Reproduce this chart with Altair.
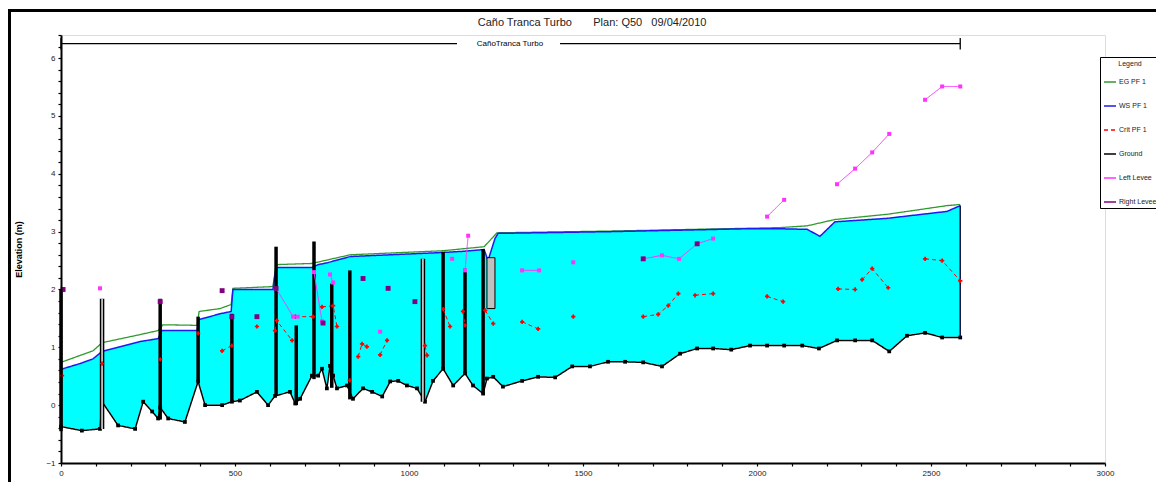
import altair as alt
import pandas as pd

# ---------------- data ----------------
ground_x = [0, 60, 112, 118, 164, 213, 236, 262, 279, 285, 308, 356, 394, 414, 463, 491, 514, 563, 595, 615,
            658, 673, 687, 721, 739, 750, 764, 773, 782, 793, 822, 839, 868, 894, 923, 946, 969, 994, 1023, 1046,
            1069, 1098, 1127, 1161, 1184, 1213, 1224, 1242, 1270, 1325, 1371, 1420, 1469, 1520, 1572, 1621, 1673,
            1727, 1779, 1828, 1874, 1926, 1980, 2029, 2078, 2130, 2178, 2230, 2282, 2331, 2380, 2431, 2483, 2532, 2584]
ground_y = [-0.37, -0.44, -0.41, 0.06, -0.35, -0.41, 0.06, -0.11, -0.23, -0.04, -0.23, -0.29, 0.41, 0.0, 0.0, 0.06,
            0.08, 0.23, 0.0, 0.16, 0.23, 0.03, 0.11, 0.51, 0.51, 0.63, 0.29, 0.68, 0.51, 0.29, 0.34, 0.11, 0.29, 0.23,
            0.15, 0.41, 0.42, 0.34, 0.29, 0.06, 0.42, 0.63, 0.34, 0.55, 0.34, 0.2, 0.46, 0.49, 0.32, 0.42, 0.49, 0.48,
            0.67, 0.67, 0.75, 0.75, 0.74, 0.67, 0.89, 0.98, 0.98, 0.96, 1.03, 1.03, 1.03, 1.03, 0.98, 1.12, 1.12, 1.12,
            0.93, 1.2, 1.25, 1.17, 1.17]

ws_x = [0, 55, 92, 118, 170, 227, 279, 290, 391, 397, 457, 489, 494, 609, 618, 721, 739, 764, 831, 1098, 1155,
        1216, 1227, 1247, 1256, 1578, 1971, 2066, 2144, 2181, 2224, 2374, 2546, 2584]
ws_y = [0.62, 0.72, 0.8, 0.93, 1.01, 1.1, 1.15, 1.29, 1.29, 1.48, 1.58, 1.62, 2.0, 2.0, 2.38, 2.38, 2.43, 2.46,
        2.57, 2.64, 2.66, 2.69, 2.5, 2.88, 2.97, 3.0, 3.05, 3.05, 3.04, 2.92, 3.17, 3.23, 3.35, 3.45]

eg_x = [0, 55, 92, 118, 227, 279, 293, 391, 397, 457, 489, 494, 609, 618, 721, 831, 1098, 1216, 1253, 1578,
        2066, 2144, 2224, 2374, 2546, 2584]
eg_y = [0.74, 0.86, 0.94, 1.08, 1.22, 1.29, 1.39, 1.38, 1.62, 1.67, 1.74, 2.02, 2.05, 2.43, 2.45, 2.6, 2.67,
        2.74, 2.98, 3.01, 3.07, 3.1, 3.21, 3.3, 3.45, 3.47]

crit_x = [3, 118, 285, 394, 463, 491, 563, 615, 620, 664, 673, 724, 750, 782, 793, 830, 854, 865, 879, 917,
          937, 1046, 1052, 1098, 1118, 1155, 1161, 1219, 1242, 1325, 1371, 1472, 1673, 1716, 1745, 1774, 1822,
          1874, 2029, 2075, 2233, 2282, 2302, 2331, 2377, 2483, 2532, 2584]
crit_y = [0.51, 0.72, 0.79, 1.24, 0.94, 1.03, 1.36, 1.29, 1.46, 1.12, 1.53, 1.53, 1.7, 1.72, 1.36, 0.43, 0.84,
          1.06, 1.01, 0.87, 1.12, 1.03, 0.86, 1.66, 1.36, 1.62, 1.38, 1.64, 1.41, 1.44, 1.32, 1.53, 1.53, 1.57,
          1.72, 1.93, 1.9, 1.93, 1.88, 1.79, 2.01, 2.0, 2.17, 2.36, 2.03, 2.53, 2.5, 2.15]
crit_seg = [1, 2, 3, 4, 5, 5, 6, 7, 7, 7, 8, 8, 9, 9, 9, 10, 11, 11, 11, 12, 12, 13, 13, 14, 14, 15, 15, 16,
            16, 17, 17, 18, 19, 19, 19, 19, 20, 20, 21, 21, 22, 22, 23, 23, 23, 24, 24, 24]

left_levee_x = [112, 285, 618, 667, 680, 727, 750, 773, 782, 917, 1124, 1161, 1170, 1325, 1374, 1472, 1673, 1727,
                1776, 1828, 1874, 2029, 2078, 2230, 2282, 2331, 2380, 2483, 2532, 2584]
left_levee_y = [2.02, 1.79, 2.02, 1.53, 1.53, 2.3, 1.45, 2.26, 2.12, 1.27, 2.53, 2.33, 2.93, 2.33, 2.33, 2.47,
                2.53, 2.59, 2.53, 2.79, 2.88, 3.26, 3.55, 3.82, 4.09, 4.37, 4.69, 5.28, 5.51, 5.51]
left_levee_seg = [1, 2, 3, 3, 3, 4, 4, 5, 5, 6, 7, 8, 8, 9, 9, 10, 11, 11, 11, 11, 11, 12, 12, 13, 13, 13, 13,
                  14, 14, 14]

right_levee_x = [6, 285, 463, 491, 563, 618, 753, 868, 940, 1017, 1673, 1828]
right_levee_y = [2.0, 1.79, 1.98, 1.53, 1.53, 2.02, 1.42, 2.19, 2.02, 1.79, 2.53, 2.79]

# structures (station, bottom, top)
struct_x = [0, 285, 394, 491, 618, 676, 727, 778, 830, 1098, 1161, 1213]
struct_lo = [-0.45, -0.25, 0.41, 0.05, 0.16, 0.0, 0.45, 0.3, 0.1, 0.63, 0.55, 0.2]
struct_hi = [2.0, 1.84, 1.53, 1.58, 2.74, 1.38, 2.83, 2.1, 2.33, 2.65, 2.36, 2.7]

open_struct_x = [118, 1040]
open_struct_lo = [-0.41, 0.06]
open_struct_hi = [1.84, 2.53]

gate_x0 = [1224]
gate_x1 = [1247]
gate_lo = [1.67]
gate_hi = [2.55]

end_x = [2584]
end_lo = [1.17]
end_hi = [3.45]

reach_label = "CañoTranca Turbo"
reach_seg_x0 = [0, 1434]
reach_seg_x1 = [1138, 2584]
reach_ends = [0, 2584]
reach_y = 6.25
reach_label_x = 1290

title_text = "Caño Tranca Turbo" + "\u00a0" * 7 + "Plan: Q50" + "\u00a0" * 3 + "09/04/2010"
title_x = 1526
title_y = 6.61

series_names = ["EG PF 1", "WS PF 1", "Crit PF 1", "Ground", "Left Levee", "Right Levee"]
series_colors = ["#2f9a2f", "#1c1cf0", "#ff0000", "#000000", "#ff33ff", "#800080"]
series_dash = [[1, 0], [1, 0], [4, 3], [1, 0], [1, 0], [1, 0]]

x_ticks = list(range(0, 3001, 100))
y_ticks = [round(-1 + 0.2 * i, 1) for i in range(38)]

# ---------------- frames ----------------
ground_df = pd.DataFrame({"x": ground_x, "y": ground_y, "series": "Ground"})
ws_df = pd.DataFrame({"x": ws_x, "y": ws_y, "series": "WS PF 1"})
eg_df = pd.DataFrame({"x": eg_x, "y": eg_y, "series": "EG PF 1"})
crit_df = pd.DataFrame({"x": crit_x, "y": crit_y, "seg": crit_seg, "series": "Crit PF 1"})
ll_df = pd.DataFrame({"x": left_levee_x, "y": left_levee_y, "seg": left_levee_seg, "series": "Left Levee"})
rl_df = pd.DataFrame({"x": right_levee_x, "y": right_levee_y, "series": "Right Levee"})
st_df = pd.DataFrame({"x": struct_x, "y": struct_lo, "hi": struct_hi})
op_df = pd.DataFrame({"x": open_struct_x, "y": open_struct_lo, "hi": open_struct_hi})
gate_df = pd.DataFrame({"x": gate_x0, "x1": gate_x1, "y": gate_lo, "hi": gate_hi})
end_df = pd.DataFrame({"x": end_x, "y": end_lo, "hi": end_hi})
reach_df = pd.DataFrame({"x": reach_seg_x0, "x1": reach_seg_x1, "y": [reach_y] * 2})
reach_end_df = pd.DataFrame({"x": reach_ends, "y": [reach_y - 0.1] * 2, "hi": [reach_y + 0.1] * 2})
reach_lab_df = pd.DataFrame({"x": [reach_label_x], "y": [reach_y], "t": [reach_label]})
title_df = pd.DataFrame({"x": [title_x], "y": [title_y], "t": [title_text]})

FONT = "Liberation Sans"

x_axis = alt.Axis(values=x_ticks, labelExpr="datum.value % 500 === 0 ? datum.label : ''", format="d",
                  grid=False, domainColor="black", domainWidth=2, tickColor="black", tickWidth=1.2,
                  tickSize=3, labelFontSize=8, labelPadding=3, labelColor="#222", title=None, zindex=1,
                  labelFlush=False, labelOverlap=False, labelFont=FONT)
y_axis = alt.Axis(values=y_ticks,
                  labelExpr="abs(datum.value - round(datum.value)) < 0.001 ? format(round(datum.value), 'd') : ''",
                  grid=False, domainColor="black", domainWidth=2, tickColor="black", tickWidth=1.2,
                  tickSize=3, labelFontSize=8, labelPadding=3, labelColor="#222", title="Elevation (m)",
                  titleFontSize=9, titleFontWeight="bold", titleFont=FONT, titlePadding=22, zindex=1,
                  labelOverlap=False, labelFont=FONT)

xs = alt.Scale(domain=[0, 3000], nice=False, zero=False)
ys = alt.Scale(domain=[-1, 6.4], nice=False, zero=False)


def X(f="x"):
    return alt.X(f"{f}:Q", scale=xs, axis=x_axis)


def Y(f="y"):
    return alt.Y(f"{f}:Q", scale=ys, axis=y_axis)


legend = alt.Legend(title="Legend", orient="none", legendX=1039, legendY=22, direction="vertical",
                    strokeColor="black", fillColor="white", padding=3, titleFontSize=7, titleFontWeight="normal",
                    titleFont=FONT, labelFont=FONT, labelFontSize=7, labelColor="#222", titleColor="#222",
                    symbolType="stroke", symbolSize=144,
                    symbolStrokeWidth=1.5, labelOffset=2, rowPadding=14, titlePadding=8,
                    titleAnchor="middle")
color_enc = alt.Color("series:N", scale=alt.Scale(domain=series_names, range=series_colors), legend=legend)
dash_enc = alt.StrokeDash("series:N", scale=alt.Scale(domain=series_names, range=series_dash), legend=legend)

cyan = alt.Chart(ws_df).mark_area(color="#00ffff", opacity=1).encode(x=X(), y=Y(), y2=alt.datum(-1))
white = alt.Chart(ground_df).mark_area(fill="white", stroke="white", strokeWidth=1.5, opacity=1).encode(
    x=X(), y=Y(), y2=alt.datum(-1))

eg_line = alt.Chart(eg_df).mark_line(strokeWidth=1.3).encode(x=X(), y=Y(), color=color_enc, strokeDash=dash_enc)
ws_line = alt.Chart(ws_df).mark_line(strokeWidth=1.5).encode(x=X(), y=Y(), color=color_enc, strokeDash=dash_enc)
ground_line = alt.Chart(ground_df).mark_line(strokeWidth=1.5).encode(x=X(), y=Y(), color=color_enc,
                                                                        strokeDash=dash_enc)
ground_pts = alt.Chart(ground_df).mark_square(size=14, color="black", opacity=1).encode(x=X(), y=Y())

struct = alt.Chart(st_df).mark_rule(strokeWidth=3.5, color="black").encode(x=X(), y=Y(), y2="hi:Q")
open_outer = alt.Chart(op_df).mark_rule(strokeWidth=4.5, color="black").encode(x=X(), y=Y(), y2="hi:Q")
open_inner = alt.Chart(op_df).mark_rule(strokeWidth=1.5, color="#e8e8e8").encode(x=X(), y=Y(), y2="hi:Q")
gate = alt.Chart(gate_df).mark_rect(fill="#c0c0c0", stroke="black", strokeWidth=1).encode(
    x=X(), x2="x1:Q", y=Y(), y2="hi:Q")
end_rule = alt.Chart(end_df).mark_rule(strokeWidth=1.5, color="#101040").encode(x=X(), y=Y(), y2="hi:Q")

crit_line = alt.Chart(crit_df).mark_line(strokeWidth=1).encode(x=X(), y=Y(), detail="seg:N", color=color_enc,
                                                                 strokeDash=dash_enc)
crit_pts = alt.Chart(crit_df).mark_point(shape="cross", filled=True, size=18, color="#ff0000", opacity=1).encode(
    x=X(), y=Y())

ll_line = alt.Chart(ll_df).mark_line(strokeWidth=1).encode(x=X(), y=Y(), detail="seg:N", color=color_enc,
                                                             strokeDash=dash_enc)
ll_pts = alt.Chart(ll_df).mark_square(size=16, color="#ff33ff", opacity=1).encode(x=X(), y=Y())
rl_pts = alt.Chart(rl_df).mark_square(size=24, color="#800080", opacity=1).encode(x=X(), y=Y())

reach_line = alt.Chart(reach_df).mark_rule(strokeWidth=1.3, color="black").encode(x=X(), x2="x1:Q", y=Y())
reach_tick = alt.Chart(reach_end_df).mark_rule(strokeWidth=1.3, color="black").encode(x=X(), y=Y(), y2="hi:Q")
reach_text = alt.Chart(reach_lab_df).mark_text(fontSize=8, font=FONT, color="black").encode(
    x=X(), y=Y(), text="t:N")
title_mark = alt.Chart(title_df).mark_text(fontSize=11, font=FONT, color="#222", baseline="middle").encode(
    x=X(), y=Y(), text="t:N")

border_left = alt.Chart(ground_df).mark_rule(strokeWidth=3, color="black").encode(
    x=alt.value(-51.5), y=alt.value(-25), y2=alt.value(447))
border_top = alt.Chart(ground_df).mark_rule(strokeWidth=3, color="black").encode(
    x=alt.value(-53), x2=alt.value(1095), y=alt.value(-24.5))

chart = alt.layer(
    cyan, white, eg_line, ws_line, ground_line, ground_pts,
    struct, open_outer, open_inner, gate, end_rule,
    crit_line, crit_pts, ll_line, ll_pts, rl_pts,
    reach_line, reach_tick, reach_text, title_mark, border_left, border_top
).properties(
    width=1044, height=428,
    autosize=alt.AutoSizeParams(type="none"),
    padding={"left": 53, "top": 27, "right": 51, "bottom": 19},
).configure_view(stroke=None).configure(background="white")

chart.save("out.html", embed_options={"renderer": "svg", "actions": False})
